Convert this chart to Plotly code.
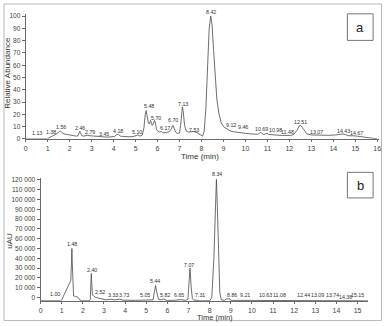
import plotly.graph_objects as go

# ---------------- Panel a : relative abundance ----------------
time_a = [0, 1.0, 1.05, 1.13, 1.2, 1.3, 1.38, 1.45, 1.52, 1.58, 1.65, 1.75, 1.9, 2.0, 2.1, 2.2, 2.3,
          2.38, 2.43, 2.46, 2.5, 2.55, 2.65, 2.79, 2.9, 3.0, 3.2, 3.35, 3.45, 3.55, 3.7, 3.9, 4.05,
          4.15, 4.22, 4.3, 4.5, 4.7, 4.9, 5.0, 5.1, 5.15, 5.2, 5.3, 5.38, 5.44, 5.48, 5.53, 5.58,
          5.63, 5.68, 5.72, 5.76, 5.8, 5.86, 5.9, 5.95, 6.0, 6.1, 6.17, 6.25, 6.4, 6.55, 6.62, 6.70,
          6.76, 6.82, 6.9, 7.0, 7.05, 7.1, 7.13, 7.17, 7.23, 7.3, 7.4, 7.53, 7.65, 7.8, 7.95, 8.05,
          8.12, 8.2, 8.28, 8.35, 8.42, 8.48, 8.55, 8.62, 8.7, 8.8, 8.9, 9.0, 9.12, 9.3, 9.46, 9.6,
          9.8, 10.0, 10.3, 10.55, 10.62, 10.69, 10.76, 10.85, 10.92, 10.98, 11.05, 11.2, 11.48, 11.7,
          11.9, 12.05, 12.2, 12.35, 12.45, 12.51, 12.6, 12.7, 12.8, 13.0, 13.2, 13.5, 13.8, 14.1,
          14.3, 14.43, 14.55, 14.7, 15.0, 15.3, 15.6, 15.8, 16.0]
abund_a = [0, 0, 0.8, 1.5, 2.0, 3.0, 3.5, 4.5, 6.0, 6.4, 5.0, 4.0, 3.5, 3.2, 3.0, 2.6, 2.2,
           2.6, 5.5, 6.2, 4.5, 2.6, 2.2, 3.0, 2.6, 2.4, 2.0, 1.6, 2.0, 1.4, 1.4, 1.7, 2.0,
           3.6, 3.7, 2.2, 1.8, 1.7, 1.9, 2.4, 3.2, 2.8, 2.2, 3.0, 9, 20, 23, 18, 13,
           12, 15, 13, 11, 12, 15, 13, 8, 6.5, 5.5, 6.0, 5.0, 5.0, 6.0, 8, 11,
           8.5, 5.5, 4.5, 4.8, 11, 23, 26, 22, 11, 6.5, 5.5, 5.8, 6.0, 5.0, 3.0, 2.2,
           6, 25, 60, 90, 100, 93, 72, 50, 32, 20, 13, 10, 8.5, 6.5, 5.8, 5.3,
           5.0, 4.5, 4.0, 3.7, 4.5, 5.2, 4.3, 3.5, 4.0, 4.6, 3.6, 3.2, 3.0, 2.8,
           2.6, 2.8, 3.6, 7, 10.5, 11, 9, 6, 4.0, 3.2, 3.0, 2.8, 2.9, 3.2,
           3.6, 4.0, 3.4, 2.6, 2.4, 1.8, 1.2, 0.6, 0]
labels_a = ["1.13", "1.38", "1.56", "2.46", "2.79", "3.45", "4.18", "5.10", "5.48", "5.70",
            "6.17", "6.70", "7.13", "7.53", "8.42", "9.12", "9.46", "10.69", "10.98", "11.48",
            "12.51", "13.07", "14.43", "14.67"]
label_x_a = [0.50, 1.17, 1.59, 2.46, 2.94, 3.57, 4.20, 5.05, 5.60, 5.92,
             6.34, 6.68, 7.18, 7.68, 8.45, 9.35, 9.87, 10.74, 11.35, 11.93,
             12.50, 13.25, 14.45, 15.05]
label_y_a = [4.6, 5.6, 9.8, 8.5, 5.8, 3.7, 6.4, 5.8, 26.6, 17.0,
             9.0, 15.2, 28.0, 7.2, 103.5, 11.2, 9.4, 8.0, 7.2, 5.4,
             13.8, 5.4, 6.6, 4.6]
yticks_a = list(range(0, 101, 10))
xticks_a = list(range(0, 17))

# ---------------- Panel b : uAU ----------------
time_b = [0, 0.95, 1.0, 1.1, 1.2, 1.3, 1.38, 1.43, 1.46, 1.48, 1.5, 1.53, 1.56, 1.65, 1.75, 1.85,
          1.95, 2.3, 2.35, 2.38, 2.40, 2.42, 2.45, 2.52, 2.6, 2.7, 2.9, 3.1, 3.33, 3.5, 3.73, 3.9,
          4.5, 5.05, 5.2, 5.32, 5.38, 5.44, 5.5, 5.58, 5.7, 5.82, 5.95, 6.3, 6.65, 6.85, 6.97,
          7.02, 7.07, 7.12, 7.18, 7.25, 7.31, 7.5, 8.0, 8.1, 8.2, 8.28, 8.32, 8.36, 8.42, 8.48,
          8.55, 8.7, 8.8, 8.86, 8.95, 9.0, 9.21, 10.63, 12.0, 15.5]
uau_b = [-3500, -3500, -2500, 2000, 8000, 11500, 14500, 17500, 35000, 50000, 35000, 10000, 1500,
         1000, 500, -2500, -3500, -3500, -2000, 15000, 24500, 15000, 2500, 1500, 0, -500,
         -1500, -2500, -1800, -2500, -1800, -2800, -3000, -2500, -3000, -2500, 5000, 12000,
         5000, -2000, -2500, -1500, -3000, -3000, -2200, -3000, -2000, 15000, 30000, 12000,
         -1000, -3000, -2500, -3500, -3500, 0, 40000, 95000, 120500, 95000, 40000, 5000,
         -2500, -3000, -1500, -1500, -1500, -3000, -3000, -3000, -3200, -3500]
labels_b = ["1.00", "1.48", "2.40", "2.52", "3.33", "3.73", "5.05", "5.44", "5.82", "6.65",
            "7.07", "7.31", "8.34", "8.86", "9.21", "10.63", "11.08", "12.44", "13.09",
            "13.74", "14.38", "15.15"]
label_x_b = [0.67, 1.50, 2.42, 2.81, 3.42, 3.95, 4.92, 5.40, 5.90, 6.57,
             7.04, 7.54, 8.35, 9.07, 9.65, 10.66, 11.29, 12.46, 13.08,
             13.82, 14.41, 15.00]
label_y_b = [3300, 55000, 27800, 5700, 2300, 2300, 2300, 16800, 2700, 2700,
             33500, 2300, 126000, 2300, 2300, 2300, 2300, 2300, 2300,
             2300, 700, 2300]
yticks_b = list(range(0, 120001, 10000))
yticktext_b = ["0"] + [f"{v // 1000} 000" for v in yticks_b[1:]]
xticks_b = list(range(0, 16))

W, H = 386, 326
FONT = "Liberation Sans Narrow, Liberation Sans, Arial, sans-serif"
AX = "#6a6a6a"
LINE = "#4a4a4a"

def px(xp):
    return xp / W

def py(yp):
    return 1 - yp / H

# axis geometry (pixels)
YA_BOT, YA_TOP, YA_RANGE = 139, 11.8, [0, 102]
YB_BOT, YB_TOP, YB_RANGE = 304, 178.7, [-4000, 122000]

fig = go.Figure()
fig.add_trace(go.Scatter(x=time_a, y=abund_a, mode="lines", xaxis="x", yaxis="y",
                         line=dict(color=LINE, width=0.8), hoverinfo="skip"))
fig.add_trace(go.Scatter(x=time_b, y=uau_b, mode="lines", xaxis="x2", yaxis="y2",
                         line=dict(color=LINE, width=0.8), hoverinfo="skip"))

axis_common = dict(showline=True, linecolor=AX, linewidth=1, ticks="outside",
                   tickcolor=AX, tickwidth=1, showgrid=False, zeroline=False)
xfont = dict(family=FONT, size=7, color="#444")
yfont = dict(family=FONT, size=6.6, color="#444")

fig.update_layout(
    width=W, height=H, margin=dict(l=0, r=0, t=0, b=0),
    paper_bgcolor="white", plot_bgcolor="white", showlegend=False,
    xaxis=dict(domain=[px(24), px(381.4)], range=[0, 16.1], tickvals=xticks_a,
               anchor="y", tickfont=xfont, ticklen=2.5, **axis_common),
    yaxis=dict(domain=[py(YA_BOT), py(YA_TOP)], range=YA_RANGE, tickvals=yticks_a,
               anchor="x", tickfont=yfont, ticklen=3, **axis_common),
    xaxis2=dict(domain=[px(39), px(370)], range=[0, 15.5], tickvals=xticks_b,
                anchor="y2", tickfont=xfont, ticklen=2, **axis_common),
    yaxis2=dict(domain=[py(YB_BOT), py(YB_TOP)], range=YB_RANGE, tickvals=yticks_b,
                ticktext=yticktext_b, anchor="x2", tickfont=yfont, ticklen=3, **axis_common),
)

def peak_labels(texts, xs, ys, xref, yref, rng, pix_bot, pix_top):
    scale = (pix_bot - pix_top) / (rng[1] - rng[0])
    out = []
    for t, xx, yy in zip(texts, xs, ys):
        shift = 0
        if yy > rng[1]:  # keep label visible above the top of the axis range
            shift = (yy - rng[1]) * scale
            yy = rng[1]
        out.append(dict(text=t, x=xx, y=yy, xref=xref, yref=yref, showarrow=False,
                        yshift=shift, font=dict(family=FONT, size=5.3, color="#333")))
    return out

ann = peak_labels(labels_a, label_x_a, label_y_a, "x", "y", YA_RANGE, YA_BOT, YA_TOP)
ann += peak_labels(labels_b, label_x_b, label_y_b, "x2", "y2", YB_RANGE, YB_BOT, YB_TOP)

title_font = dict(family=FONT, size=8, color="#333")
center = dict(xref="paper", yref="paper", showarrow=False, xanchor="center", yanchor="middle")
ann += [
    dict(text="Relative Abundance", x=px(6), y=py(72), textangle=-90, font=title_font, **center),
    dict(text="Time (min)", x=px(200), y=py(156.5), font=title_font, **center),
    dict(text="uAU", x=px(7.5), y=py(242), textangle=-90, font=title_font, **center),
    dict(text="Time (min)", x=px(215), y=py(320.2), font=dict(family=FONT, size=7.5, color="#333"),
         **center),
    dict(text="a", x=px(362), y=py(25.5),
         font=dict(family="Liberation Sans, Arial, sans-serif", size=13, color="#222"), **center),
    dict(text="b", x=px(362), y=py(186),
         font=dict(family="Liberation Sans, Arial, sans-serif", size=13, color="#222"), **center),
]
fig.update_layout(annotations=ann)

shapes = [
    dict(type="rect", xref="paper", yref="paper", x0=px(2), x1=px(383.5), y0=py(323.5), y1=py(2),
         line=dict(color="#b8b8b8", width=1)),
    dict(type="rect", xref="paper", yref="paper", x0=px(349), x1=px(375), y0=py(39), y1=py(12),
         line=dict(color="#777", width=1)),
    dict(type="rect", xref="paper", yref="paper", x0=px(349), x1=px(375), y0=py(199), y1=py(173),
         line=dict(color="#777", width=1)),
]
fig.update_layout(shapes=shapes)

fig.write_html("out.html", config={"displayModeBar": False})

# remove the default page margin so the figure sits at the window's top-left corner
with open("out.html", encoding="utf-8") as f:
    html = f.read()
html = html.replace("<head>", "<head><style>html,body{margin:0;padding:0;overflow:hidden;}</style>", 1)
with open("out.html", "w", encoding="utf-8") as f:
    f.write(html)
